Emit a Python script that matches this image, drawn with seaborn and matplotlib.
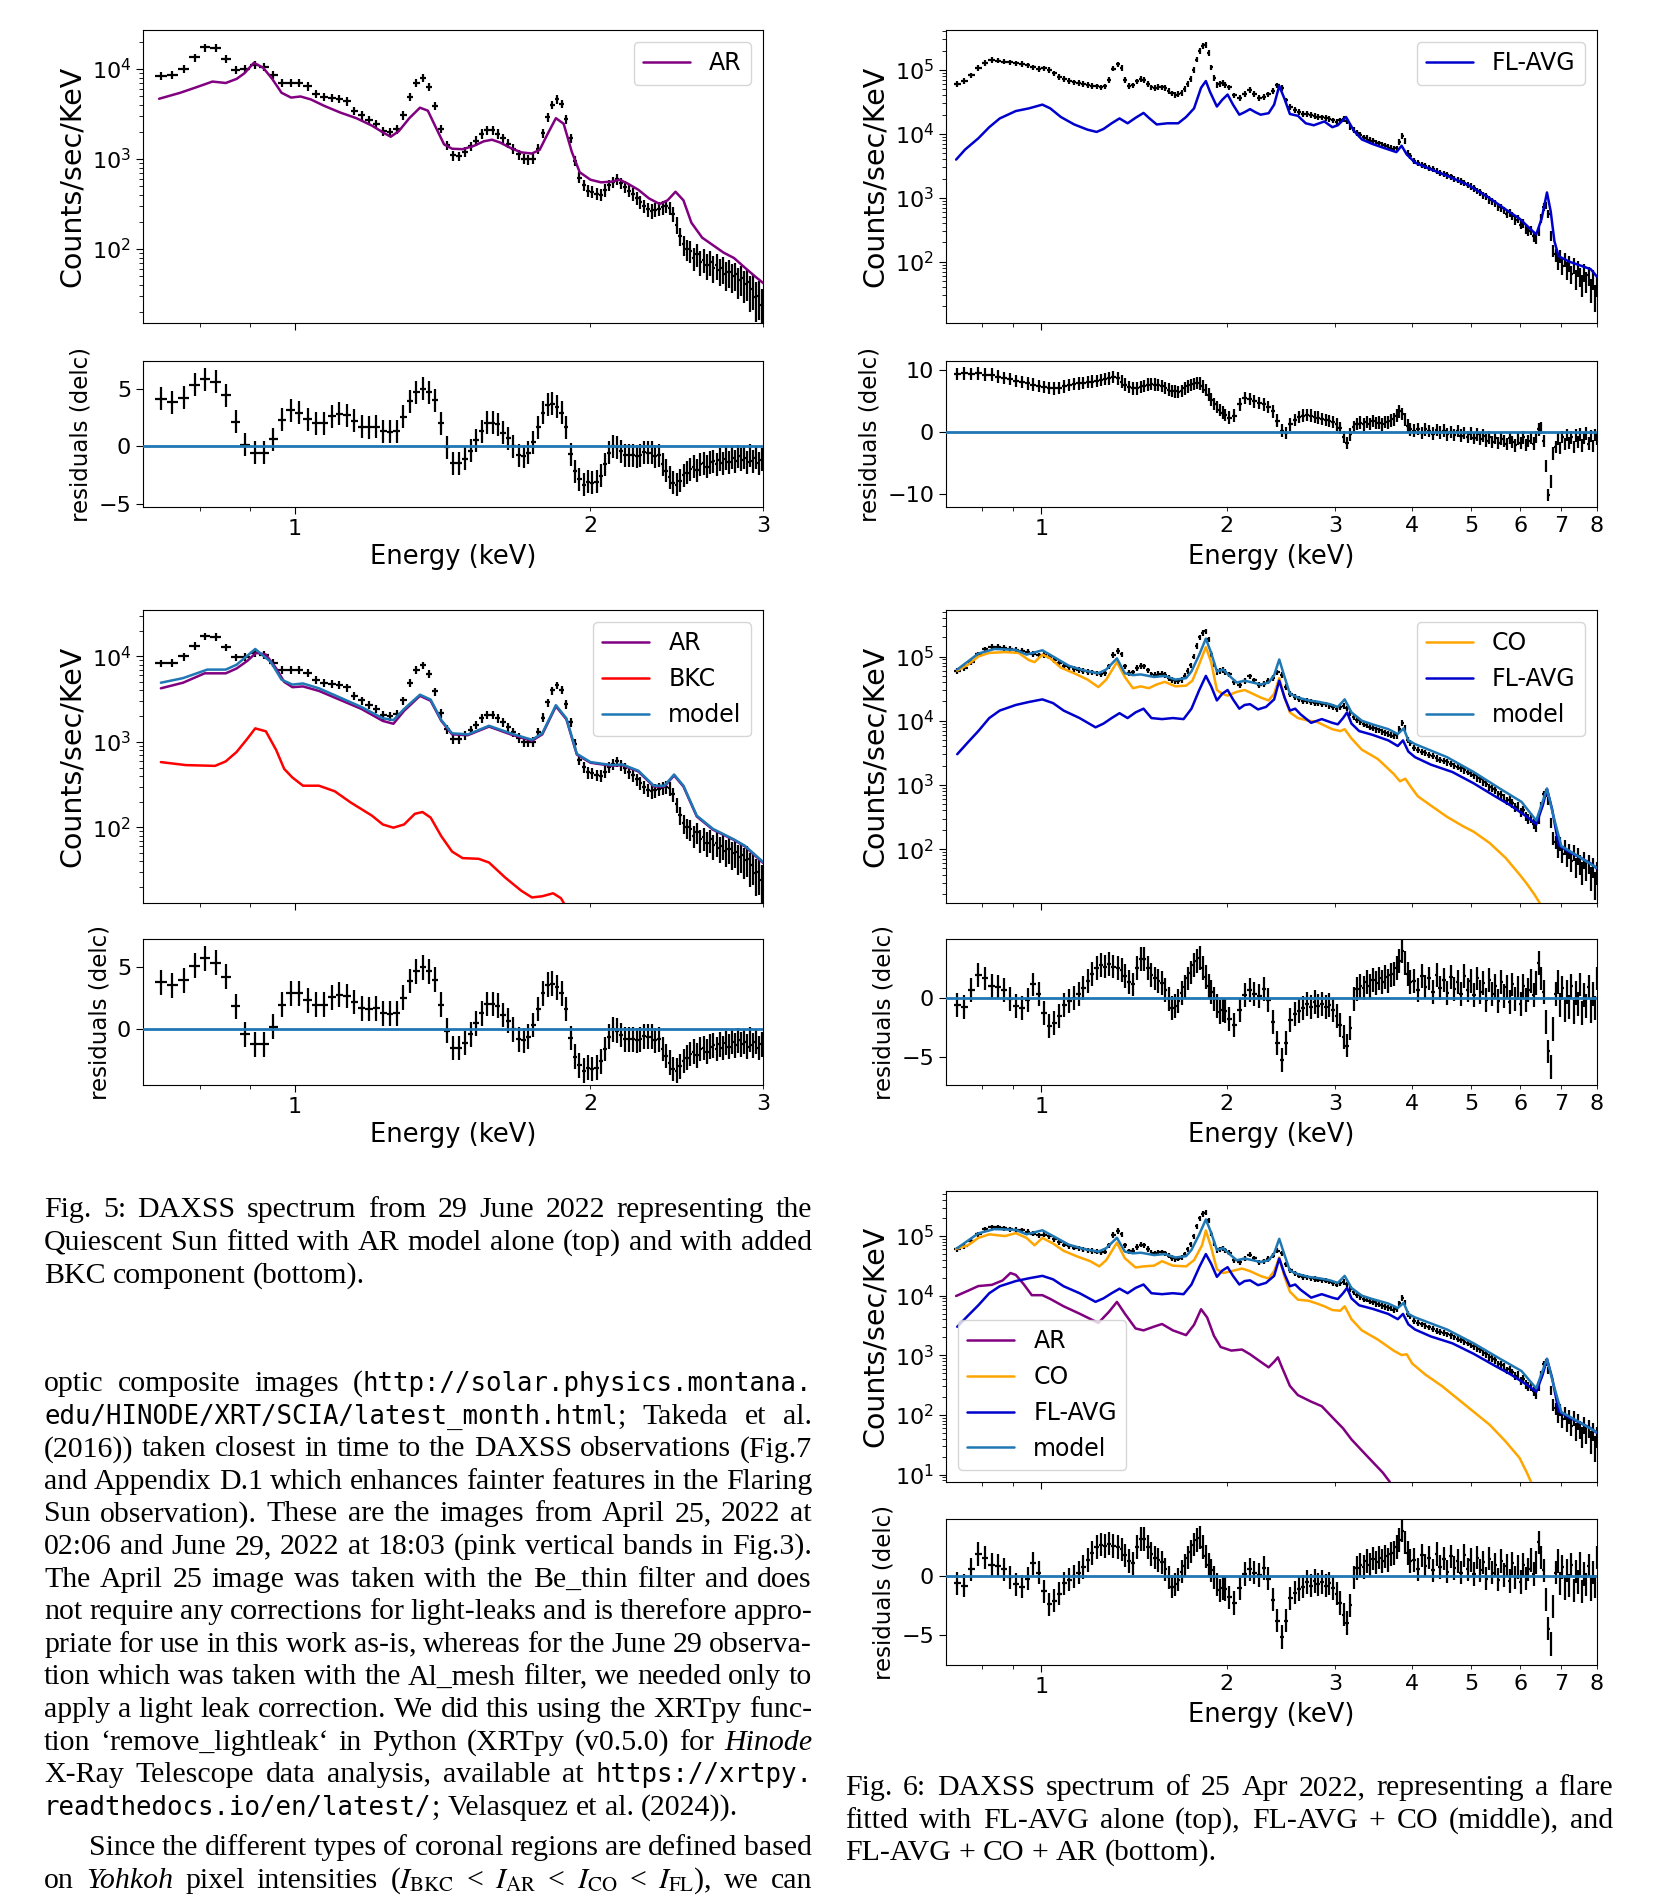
import re
import numpy as np
import matplotlib
matplotlib.use("Agg")
import matplotlib.pyplot as plt
from matplotlib import ticker
from matplotlib.transforms import IdentityTransform
import seaborn as sns

# ------------------------------------------------------------------
# Quiet Sun, 29 June 2022 (0.02 keV bins)
# ------------------------------------------------------------------
e_qs = np.round(np.linspace(0.73, 2.99, 114), 3)
w_qs = np.full(114, 0.01)

counts_qs = [
    8300, 8500, 10000, 13400, 17300, 17000, 12800, 9800, 9900, 11100,
    10500, 8500, 7000, 7000, 7000, 6400, 5300, 4900, 4800, 4650,
    4350, 3430, 3060, 2700, 2450, 2040, 2000, 2130, 3060, 4900,
    7000, 7900, 6300, 3900, 2160, 1420, 1090, 1070, 1200, 1380,
    1590, 1900, 2090, 2090, 1900, 1700, 1480, 1300, 1120, 1000,
    990, 1000, 1300, 1930, 2900, 4000, 4600, 4100, 2750, 1700,
    950, 620, 510, 440, 430, 410, 400, 450, 510, 550,
    590, 540, 490, 440, 405, 365, 330, 300, 275, 265,
    272, 280, 290, 300, 285, 245, 185, 140, 112, 100,
    95, 80, 88, 72, 76, 66, 72, 62, 66, 58,
    61, 53, 56, 50, 52, 45, 47, 41, 43, 35,
    36, 29, 30, 24]

resid_qs_ar = [
    4.1, 3.8, 4.2, 5.35, 5.8, 5.6, 4.4, 2.1, 0.1, -0.6,
    -0.6, 0.6, 2.3, 3.1, 2.9, 2.35, 2.0, 2.0, 2.6, 2.8,
    2.7, 2.2, 1.7, 1.65, 1.7, 1.3, 1.25, 1.3, 2.55, 3.9,
    4.7, 5.0, 4.7, 4.0, 2.0, -0.1, -1.5, -1.5, -1.1, -0.4,
    0.5, 1.3, 2.05, 2.05, 1.9, 1.15, 0.7, 0.0, -0.8, -0.9,
    -0.6, 0.35, 1.65, 2.9, 3.6, 3.7, 3.4, 2.9, 1.65, -0.7,
    -2.2, -2.9, -3.35, -3.1, -3.2, -3.1, -2.6, -1.6, -0.6, 0.0,
    -0.1, -0.45, -0.8, -0.8, -0.8, -0.9, -0.8, -0.55, -0.6, -0.6,
    -0.9, -0.8, -1.6, -2.15, -2.7, -3.2, -3.35, -3.0, -2.55, -2.3,
    -2.0, -1.8, -2.1, -1.6, -1.5, -1.8, -1.4, -1.3, -1.6, -1.2,
    -1.5, -1.1, -1.4, -1.0, -1.3, -0.9, -1.2, -1.0, -1.4, -0.8,
    -1.3, -1.0, -1.5, -1.2]
resid_qs_bkc = [3.8, 3.55, 3.95, 5.15, 5.75, 5.4, 4.25, 1.85, -0.4, -1.2,
                -1.2, 0.2, 2.0, 2.9] + resid_qs_ar[14:]

ar_qs_e = [0.727, 0.764, 0.794, 0.824, 0.850, 0.872, 0.888, 0.908, 0.928, 0.948,
           0.969, 0.991, 1.013, 1.038, 1.071, 1.112, 1.155, 1.198, 1.229, 1.252,
           1.276, 1.308, 1.341, 1.366, 1.392, 1.419, 1.446, 1.482, 1.520, 1.558,
           1.588, 1.618, 1.659, 1.701, 1.744, 1.776, 1.810, 1.845, 1.879, 1.915,
           1.951, 2.001, 2.051, 2.103, 2.143, 2.183, 2.239, 2.296, 2.354, 2.398,
           2.443, 2.489, 2.536, 2.601, 2.667, 2.734, 2.803, 2.874, 2.947, 3.003]
ar_qs = [4650, 5420, 6260, 7220, 6960, 7730, 8910, 11650, 10300, 7730,
         5420, 4790, 4930, 4570, 3880, 3270, 2830, 2340, 1970, 1760,
         2030, 2830, 3700, 3430, 2230, 1450, 1295, 1280, 1385, 1567,
         1630, 1520, 1320, 1180, 1145, 1260, 1900, 2830, 2450, 1200,
         710, 586, 548, 558, 586, 532, 453, 363, 315, 346,
         431, 346, 195, 133, 110, 91, 79, 62, 49, 41.5]

model_qs_e = [0.730, 0.769, 0.814, 0.850, 0.872, 0.911, 0.945, 0.969, 0.994, 1.019,
              1.058, 1.112, 1.169, 1.229, 1.260, 1.292, 1.341, 1.375, 1.410, 1.446,
              1.501, 1.577, 1.659, 1.744, 1.787, 1.845, 1.891, 1.938, 2.001, 2.103,
              2.156, 2.239, 2.322, 2.380, 2.435, 2.489, 2.568, 2.667, 2.803, 2.874, 3.003]
model_qs = [4930, 5580, 7020, 7020, 8010, 12240, 8590, 5350, 4690, 4830,
            4240, 3300, 2560, 1890, 1800, 2430, 3570, 3130, 1800, 1260,
            1225, 1545, 1260, 1060, 1260, 2690, 1890, 725, 580, 535,
            545, 460, 307, 307, 415, 307, 137, 96, 72, 61, 39]

ar2_qs_e = [0.730, 0.769, 0.809, 0.850, 0.872, 0.894, 0.913, 0.934, 0.957, 0.975,
            0.994, 1.019, 1.058, 1.112, 1.169, 1.229, 1.260, 1.292, 1.341, 1.375,
            1.410, 1.446, 1.501, 1.577, 1.659, 1.744, 1.787, 1.845, 1.891, 1.938,
            2.001, 2.103, 2.156, 2.239, 2.322, 2.380, 2.435, 2.489, 2.568, 2.667,
            2.803, 2.874, 3.003]
ar2_qs = [4240, 4930, 6350, 6350, 7240, 8860, 11060, 10510, 7240, 5040,
          4370, 4460, 3950, 3100, 2430, 1760, 1630, 2310, 3460, 3030,
          1760, 1225, 1200, 1510, 1225, 1030, 1225, 2610, 1840, 710,
          570, 525, 535, 450, 300, 300, 405, 300, 134, 94,
          71, 60, 38]

bkc_e = [0.730, 0.774, 0.829, 0.850, 0.872, 0.894, 0.911, 0.934, 0.957, 0.975,
         0.994, 1.019, 1.058, 1.098, 1.140, 1.198, 1.229, 1.260, 1.292, 1.325,
         1.349, 1.375, 1.410, 1.446, 1.482, 1.539, 1.577, 1.638, 1.701, 1.744,
         1.787, 1.833, 1.867, 1.883, 1.927]
bkc = [580, 535, 524, 591, 762, 1085, 1440, 1330, 801, 483,
       383, 307, 307, 264, 195, 137, 108, 99, 108, 144,
       151, 130, 78.5, 52, 43.6, 42.8, 38.7, 25.8, 18.1, 15.1,
       15.6, 16.9, 14.8, 12.5, 6]

# ------------------------------------------------------------------
# Flare, 25 April 2022 (0.02 / 0.04 / 0.06 keV bins)
# ------------------------------------------------------------------
e_fl = np.round(np.concatenate([np.linspace(0.73, 1.99, 64),
                                np.linspace(2.02, 3.98, 50),
                                np.linspace(4.03, 7.99, 67)]), 3)
w_fl = np.concatenate([np.full(64, 0.01), np.full(50, 0.02), np.full(67, 0.03)])

counts_fl = [
    60000, 67000, 82000, 108000, 130000, 142000, 140000, 135000, 131000, 127000,
    124000, 118000, 110000, 104000, 106000, 100000, 88000, 78000, 72000, 68000,
    64000, 62000, 60000, 58000, 56500, 55000, 53500, 55000, 70000, 105000,
    122000, 108000, 70000, 56000, 57000, 66000, 72000, 70000, 61000, 53000,
    52000, 54000, 53500, 52000, 47000, 43000, 41000, 42000, 43500, 50000,
    60000, 73000, 100000, 145000, 200000, 235000, 247000, 185000, 110000, 75000,
    58000, 60000, 62000, 58000,
    53000, 40000, 36500, 42000, 49000, 42500, 36500, 37500, 41500, 47000,
    57000, 52000, 33500, 26500, 23800, 21800, 20600, 20300, 19600, 19200,
    18600, 18000, 17900, 17200, 16300, 15400, 16200, 17000, 15600, 13000,
    11400, 10300, 9600, 8800, 8600, 8100, 7800, 7300, 7100, 6700,
    6500, 6200, 6100, 5800, 5900, 7500, 9200, 7700, 5000, 4500,
    3800, 3500, 3300, 3150, 2950, 2800, 2600, 2480, 2380, 2250,
    2150, 2000, 1900, 1820, 1700, 1600, 1520, 1420, 1280, 1230,
    1100, 1050, 930, 880, 820, 720, 700, 640, 560, 590,
    520, 450, 470, 380, 400, 330, 300, 310, 250, 230,
    300, 480, 720, 760, 560, 260, 150, 130, 100, 125,
    85, 110, 75, 95, 65, 90, 55, 80, 60, 45,
    70, 50, 62, 38, 55, 30, 45]

resid_fl_avg = [
    9.3, 9.4, 9.3, 9.4, 9.2, 9.2, 8.9, 8.7, 8.5, 8.2,
    8.0, 7.8, 7.6, 7.4, 7.2, 7.1, 7.0, 7.1, 7.3, 7.5,
    7.7, 7.8, 7.9, 8.0, 8.1, 8.2, 8.3, 8.5, 8.6, 8.8,
    8.6, 8.1, 7.6, 7.2, 7.0, 7.0, 7.2, 7.4, 7.6, 7.7,
    7.6, 7.5, 7.4, 7.1, 6.8, 6.6, 6.5, 6.4, 6.6, 7.0,
    7.3, 7.5, 7.7, 7.9, 7.8, 7.3, 6.7, 6.0, 5.2, 4.5,
    4.0, 3.5, 3.1, 2.7,
    2.3, 2.6, 4.4, 5.4, 5.3, 4.9, 4.6, 4.4, 4.0, 3.3,
    1.8, 0.2, -0.2, 1.2, 1.9, 2.4, 2.6, 2.7, 2.6, 2.4,
    2.3, 2.1, 1.9, 1.7, 1.6, 1.2, 0.6, -0.8, -1.8, -0.4,
    0.8, 1.3, 1.5, 1.2, 1.6, 1.3, 1.7, 1.4, 1.5, 1.2,
    1.6, 1.5, 1.8, 2.0, 2.6, 3.3, 2.9, 2.0, 1.0, 0.4,
    0.2, 0.5, -0.2, 0.4, 0.1, -0.3, 0.3, -0.1, 0.2, -0.4,
    0.0, -0.5, 0.1, -0.6, -0.2, -0.8, -0.3, -1.0, -0.4, -1.2,
    -0.6, -1.4, -0.9, -1.6, -1.0, -1.8, -1.1, -1.5, -2.0, -1.0,
    -1.6, -2.2, -1.2, -1.8, -0.9, -2.1, -1.5, -1.0, -1.9, -0.8,
    0.4, 0.6, -1.5, -5.5, -10.2, -8.0, -3.5, -2.4, -1.2, -2.6,
    -0.8, -2.0, -0.5, -1.8, -0.9, -2.4, -0.6, -1.6, -0.4, -2.2,
    -1.0, -0.3, -1.9, -0.7, -2.3, -0.5, -1.2]

resid_fl_co = [
    -0.6, -0.8, 0.6, 1.9, 1.6, 1.0, 0.9, 0.6, -0.1, -0.7,
    -0.9, -0.2, 1.1, 0.3, -1.3, -2.4, -2.1, -1.5, -0.6, -0.3,
    0.0, 0.3, 0.8, 1.4, 2.0, 2.5, 2.7, 2.6, 2.8, 2.6,
    2.5, 2.3, 1.8, 1.3, 1.1, 2.5, 3.2, 3.2, 2.5, 1.9,
    1.6, 1.4, 1.2, 0.6, -0.1, -0.9, -0.7, -0.3, 0.4, 0.9,
    1.6, 2.1, 2.7, 3.1, 3.3, 2.5, 1.7, 1.0, 0.5, -0.1,
    -0.7, -1.2, -1.0, -1.1,
    -1.8, -2.3, -1.0, 0.2, 0.6, 0.3, 0.1, 0.7, -0.2, -2.0,
    -3.8, -5.2, -3.8, -1.9, -1.4, -1.1, -0.9, -0.5, -0.8, -0.4,
    -0.7, -0.5, -0.8, -0.6, -1.0, -1.5, -2.3, -3.3, -4.0, -2.5,
    -0.1, 0.7, 1.0, 0.8, 1.3, 1.0, 1.5, 1.2, 1.6, 1.3,
    1.7, 1.4, 1.9, 2.0, 2.5, 3.1, 3.9, 2.9, 2.0, 1.3,
    1.4, 0.6, 1.8, 0.9, 1.6, 0.5, 1.9, 0.8, 1.5, 0.4,
    1.7, 0.7, 1.3, 0.3, 1.8, 0.6, 1.4, 0.2, 1.6, 0.5,
    1.2, -0.2, 1.5, 0.3, 1.0, -0.3, 1.3, 0.1, 0.9, -0.4,
    1.1, -0.1, 0.8, -0.5, 1.0, -0.2, 0.6, 1.4, 0.2, 1.2,
    2.9, 1.6, 0.5, -2.0, -4.5, -5.8, -2.6, 0.3, 1.3, -0.6,
    0.8, -1.0, 0.5, -0.8, 1.0, -1.2, 0.4, -0.5, 1.1, -1.3,
    0.2, -0.7, 0.9, -1.1, 0.3, -0.9, 1.6]

flavg1_e = [0.727, 0.752, 0.790, 0.823, 0.856, 0.909, 0.955, 1.004, 1.034, 1.076,
            1.131, 1.189, 1.230, 1.262, 1.301, 1.340, 1.381, 1.423, 1.466, 1.495,
            1.540, 1.603, 1.669, 1.719, 1.771, 1.818, 1.851, 1.879, 1.929, 1.968,
            2.008, 2.049, 2.098, 2.140, 2.184, 2.227, 2.272, 2.341, 2.390, 2.436,
            2.485, 2.535, 2.612, 2.690, 2.772, 2.884, 2.971, 3.033, 3.128, 3.222,
            3.318, 3.451, 3.591, 3.776, 3.851, 3.925, 4.048, 4.297, 4.563, 4.941,
            5.351, 5.680, 5.987, 6.212, 6.373, 6.503, 6.634, 6.727, 6.821, 6.929,
            7.214, 7.508, 7.814, 8.0]
flavg1 = [3950, 5680, 8500, 12700, 17400, 22700, 25000, 28600, 25000, 18300,
          14000, 11600, 10700, 11900, 14600, 17400, 14600, 17800, 21200, 17800,
          14000, 14600, 14600, 18300, 25000, 52400, 66800, 45800, 26700, 34000,
          41100, 28600, 19900, 21800, 24300, 21800, 19900, 21000, 28600, 56100,
          35000, 20400, 19100, 14600, 13600, 15600, 12700, 13600, 18300, 11100,
          8170, 6950, 6080, 5170, 6500, 4760, 3550, 2780, 2210, 1580,
          987, 659, 471, 336, 267, 471, 1210, 615, 210, 122,
          100, 87.5, 76.4, 58.3]

flavg_e = [0.730, 0.760, 0.790, 0.823, 0.856, 0.909, 0.955, 1.004, 1.045, 1.087,
           1.154, 1.225, 1.262, 1.301, 1.340, 1.381, 1.423, 1.466, 1.510, 1.571,
           1.636, 1.703, 1.754, 1.806, 1.851, 1.888, 1.929, 1.968, 2.008, 2.049,
           2.098, 2.140, 2.184, 2.250, 2.318, 2.390, 2.436, 2.485, 2.535, 2.586,
           2.638, 2.745, 2.856, 2.971, 3.033, 3.093, 3.140, 3.192, 3.285, 3.451,
           3.664, 3.796, 3.871, 3.949, 4.048, 4.297, 4.656, 5.042, 5.460, 5.794,
           6.155, 6.373, 6.530, 6.634, 6.764, 6.93, 7.21, 7.51, 7.81, 8.0]
flavg = [3010, 4620, 6900, 11000, 14400, 17600, 19600, 21500, 18800, 14400,
         11000, 7890, 9020, 11000, 13100, 11000, 13500, 15400, 11000, 10600,
         11000, 10600, 15400, 30100, 49900, 34400, 20700, 26300, 30100, 21500,
         15400, 17600, 18100, 15000, 16400, 21500, 42000, 23000, 14400, 15400,
         12600, 9270, 10600, 9270, 8790, 11000, 13500, 9020, 6900, 6040,
         4940, 4040, 4940, 3310, 2710, 2070, 1590, 1060, 667, 477,
         319, 244, 477, 871, 417, 115, 90, 74, 60, 50]

co_e = [0.730, 0.760, 0.790, 0.823, 0.873, 0.918, 0.955, 0.975, 1.004, 1.034,
        1.076, 1.131, 1.189, 1.238, 1.275, 1.327, 1.367, 1.409, 1.451, 1.495,
        1.540, 1.587, 1.652, 1.719, 1.760, 1.806, 1.851, 1.888, 1.929, 1.968,
        2.008, 2.077, 2.140, 2.206, 2.272, 2.341, 2.390, 2.436, 2.485, 2.535,
        2.612, 2.718, 2.800, 2.884, 2.971, 3.061, 3.112, 3.192, 3.318, 3.522,
        3.737, 3.827, 3.905, 3.987, 4.091, 4.297, 4.563, 4.844, 5.042, 5.351,
        5.680, 5.987, 6.155, 6.338, 6.459, 6.66]
co = [60100, 74500, 100000, 114000, 117000, 114000, 87500, 81800, 107000, 93500,
      67000, 54800, 43700, 33400, 43700, 81800, 48000, 32100, 34300, 32100,
      36700, 40300, 34300, 35200, 42000, 76600, 140000, 81800, 30100, 26300,
      24600, 28100, 30100, 26300, 23000, 20700, 26300, 46000, 23000, 13500,
      11000, 10000, 9650, 8440, 7380, 6900, 7380, 5290, 3540, 2540,
      1490, 1140, 1250, 931, 667, 477, 319, 228, 187, 125,
      73.5, 40.3, 28.8, 19.3, 14.4, 10]

model_fl_e = [0.730, 0.790, 0.839, 0.909, 0.946, 1.004, 1.045, 1.109, 1.177, 1.238,
              1.275, 1.327, 1.367, 1.409, 1.451, 1.525, 1.587, 1.652, 1.719, 1.754,
              1.806, 1.851, 1.888, 1.929, 1.976, 2.016, 2.077, 2.140, 2.206, 2.272,
              2.341, 2.390, 2.436, 2.485, 2.535, 2.612, 2.718, 2.829, 2.944, 3.033,
              3.112, 3.192, 3.318, 3.451, 3.664, 3.796, 3.880, 3.949, 4.048, 4.563,
              5.042, 5.568, 6.030, 6.373, 6.634, 6.795, 7.0, 7.5, 8.0]
model_fl = [62700, 111000, 131000, 127000, 107000, 125000, 100000, 71600, 60100, 54800,
            62700, 93500, 54800, 51300, 52600, 48000, 49900, 43700, 46000, 58600,
            107000, 190000, 114000, 58600, 62700, 51300, 39300, 42000, 39300, 36700,
            39300, 51300, 89900, 48000, 26300, 23000, 20700, 19600, 18100, 16400,
            21500, 13500, 10000, 8790, 7380, 6200, 7590, 4940, 4330, 2710,
            1590, 871, 546, 279, 871, 330, 112, 75, 51]

ar_fl_e = [0.727, 0.760, 0.790, 0.831, 0.865, 0.891, 0.909, 0.936, 0.965, 1.004,
           1.034, 1.087, 1.154, 1.238, 1.288, 1.327, 1.367, 1.423, 1.466, 1.525,
           1.571, 1.636, 1.719, 1.771, 1.818, 1.860, 1.908, 1.956, 2.036, 2.119,
           2.184, 2.272, 2.341, 2.390, 2.424, 2.461, 2.535, 2.612, 2.745, 2.856,
           2.971, 3.093, 3.192, 3.318, 3.451, 3.591, 3.685]
ar_fl = [9890, 12100, 14500, 15200, 18000, 24000, 22300, 15600, 10200, 10200,
         8830, 6640, 4990, 3490, 5360, 7870, 4990, 2820, 2620, 3030,
         3350, 2620, 2180, 3250, 5920, 4320, 2120, 1380, 1200, 1250,
         1040, 779, 628, 779, 925, 628, 307, 215, 167, 140,
         91.4, 59.6, 38.8, 25.3, 16.5, 10.7, 7.5]

co3_e = [0.727, 0.760, 0.790, 0.823, 0.873, 0.909, 0.946, 0.975, 1.004, 1.045,
         1.087, 1.143, 1.201, 1.242, 1.275, 1.327, 1.367, 1.423, 1.466, 1.525,
         1.571, 1.636, 1.719, 1.771, 1.825, 1.851, 1.888, 1.929, 1.976, 2.036,
         2.119, 2.184, 2.272, 2.341, 2.390, 2.436, 2.485, 2.535, 2.612, 2.718,
         2.800, 2.884, 2.971, 3.061, 3.112, 3.192, 3.318, 3.522, 3.737, 3.851,
         3.925, 4.008, 4.212, 4.475, 4.748, 5.042, 5.351, 5.680, 5.987, 6.155,
         6.250, 6.30]
co3 = [60700, 70000, 93100, 107000, 100000, 112000, 93100, 70000, 93100, 75100,
       56500, 45600, 37900, 31000, 39500, 77300, 42500, 29700, 31000, 31900,
       37900, 31900, 31000, 39500, 70000, 124000, 65200, 27700, 24000, 25800,
       28500, 25800, 21400, 19400, 25800, 43600, 20800, 11700, 8580, 8220,
       7440, 6640, 5750, 5590, 6640, 4030, 2620, 1840, 1200, 1010,
       1040, 725, 472, 307, 187, 113, 68.7, 36.1, 19.0, 10.7,
       7.5, 6.1]

for a, b in [(e_qs, counts_qs), (e_qs, resid_qs_ar), (e_qs, resid_qs_bkc),
             (ar_qs_e, ar_qs), (model_qs_e, model_qs), (ar2_qs_e, ar2_qs), (bkc_e, bkc),
             (e_fl, counts_fl), (e_fl, resid_fl_avg), (e_fl, resid_fl_co),
             (flavg1_e, flavg1), (flavg_e, flavg), (co_e, co), (model_fl_e, model_fl),
             (ar_fl_e, ar_fl), (co3_e, co3)]:
    assert len(a) == len(b), (len(a), len(b))

# statistical + 10 % systematic uncertainty on the count rates
SYS_FRAC = 0.10
STAT_FAC = 6.0


def count_err(c):
    c = np.asarray(c, dtype=float)
    return np.sqrt((SYS_FRAC * c) ** 2 + STAT_FAC * c)


# ------------------------------------------------------------------
# text of the page around the figures
# ------------------------------------------------------------------
caption5 = [
    "Fig. 5: DAXSS spectrum from 29 June 2022 representing the",
    "Quiescent Sun fitted with AR model alone (top) and with added",
    "BKC component (bottom).",
]
body = [
    "optic composite images (`http://solar.physics.montana.`",
    "`edu/HINODE/XRT/SCIA/latest_month.html`; Takeda et al.",
    "(2016)) taken closest in time to the DAXSS observations (Fig.7",
    "and Appendix D.1 which enhances fainter features in the Flaring",
    "Sun observation). These are the images from April 25, 2022 at",
    "02:06 and June 29, 2022 at 18:03 (pink vertical bands in Fig.3).",
    "The April 25 image was taken with the Be_thin filter and does",
    "not require any corrections for light-leaks and is therefore appro-",
    "priate for use in this work as-is, whereas for the June 29 observa-",
    "tion which was taken with the Al_mesh filter, we needed only to",
    "apply a light leak correction. We did this using the XRTpy func-",
    "tion \u2018remove_lightleak\u2018 in Python (XRTpy (v0.5.0) for *Hinode*",
    "X-Ray Telescope data analysis, available at `https://xrtpy.`",
    "`readthedocs.io/en/latest/`; Velasquez et al. (2024)).",
]
para2 = [
    "Since the different types of coronal regions are defined based",
    r"on *Yohkoh* pixel intensities ($I_{\mathrm{BKC}}$ < $I_{\mathrm{AR}}$ < "
    r"$I_{\mathrm{CO}}$ < $I_{\mathrm{FL}}$), we can",
]
caption6 = [
    "Fig. 6: DAXSS spectrum of 25 Apr 2022, representing a flare",
    "fitted with FL-AVG alone (top), FL-AVG + CO (middle), and",
    "FL-AVG + CO + AR (bottom).",
]

# ------------------------------------------------------------------
W, H, DPI = 1662, 1897, 100
sns.set_style("ticks", rc={"axes.edgecolor": "black", "xtick.color": "black",
                           "ytick.color": "black", "axes.labelcolor": "black",
                           "text.color": "black", "axes.linewidth": 1.2})
plt.rcParams["font.family"] = ["DejaVu Sans"]
plt.rcParams["mathtext.fontset"] = "stix"
plt.rcParams["xtick.major.size"] = 5
plt.rcParams["ytick.major.size"] = 5
plt.rcParams["xtick.minor.size"] = 3
plt.rcParams["ytick.minor.size"] = 3

fig = plt.figure(figsize=(W / DPI, H / DPI), dpi=DPI)
fig.patch.set_facecolor("white")

COLS = {"L": (143, 763), "R": (946, 1597)}
ROWS = {1: ((30, 323), (361, 507)),
        2: ((610, 903), (939, 1085)),
        3: ((1191, 1482), (1519, 1665))}

C_AR, C_BKC, C_MODEL, C_FL, C_CO = "purple", "red", "#1f77b4", "mediumblue", "orange"


def px_rect(x0, y0, x1, y1):
    return [x0 / W, 1 - y1 / H, (x1 - x0) / W, (y1 - y0) / H]


def panel(col, row, e, half_w, counts, resid, models, xmax, xticks, ylim, rlim, rticks,
          legend_loc="upper right"):
    x0, x1 = COLS[col]
    (sy0, sy1), (ry0, ry1) = ROWS[row]
    ax = fig.add_axes(px_rect(x0, sy0, x1, sy1))
    axr = fig.add_axes(px_rect(x0, ry0, x1, ry1), sharex=ax)

    ax.errorbar(e, counts, xerr=half_w, yerr=count_err(counts), fmt="none",
                ecolor="black", elinewidth=1.6, zorder=2)
    for name, me, mc, color in models:
        sns.lineplot(x=me, y=mc, ax=ax, color=color, linewidth=1.8, label=name, zorder=3)
    ax.set_yscale("log")
    ax.set_xscale("log")
    ax.set_xlim(0.70, xmax)
    ax.set_ylim(*ylim)
    ax.xaxis.set_major_locator(ticker.FixedLocator([1]))
    ax.xaxis.set_minor_locator(ticker.FixedLocator([0.8, 0.9] + xticks))
    fmt = ticker.FuncFormatter(lambda v, p: f"{v:g}" if v >= 1 else "")
    ax.xaxis.set_major_formatter(fmt)
    ax.xaxis.set_minor_formatter(fmt)
    ax.tick_params(axis="x", which="both", labelbottom=False)
    ax.tick_params(axis="y", which="both", labelsize=16)
    ax.set_ylabel("Counts/sec/KeV", fontsize=20.5)
    ax.set_xlabel("")
    ax.legend(loc=legend_loc, fontsize=17, handlelength=2.0)

    axr.errorbar(e, resid, xerr=half_w, yerr=1.0, fmt="none",
                 ecolor="black", elinewidth=1.6, zorder=2)
    axr.axhline(0, color=C_MODEL, linewidth=2, zorder=3)
    axr.set_ylim(*rlim)
    axr.set_yticks(rticks)
    axr.tick_params(axis="both", which="both", labelsize=16)
    axr.set_ylabel("residuals (delc)", fontsize=16.5)
    axr.set_xlabel("Energy (keV)", fontsize=18.5)
    return ax, axr


panel("L", 1, e_qs, w_qs, counts_qs, resid_qs_ar,
      [("AR", ar_qs_e, ar_qs, C_AR)],
      3.0, [2, 3], (15, 2.7e4), (-5.3, 7.4), [-5, 0, 5])
panel("L", 2, e_qs, w_qs, counts_qs, resid_qs_bkc,
      [("AR", ar2_qs_e, ar2_qs, C_AR), ("BKC", bkc_e, bkc, C_BKC),
       ("model", model_qs_e, model_qs, C_MODEL)],
      3.0, [2, 3], (13, 3.5e4), (-4.5, 7.3), [0, 5])
panel("R", 1, e_fl, w_fl, counts_fl, resid_fl_avg,
      [("FL-AVG", flavg1_e, flavg1, C_FL)],
      8.0, [2, 3, 4, 5, 6, 7, 8], (11, 4.2e5), (-12.1, 11.4), [-10, 0, 10])
panel("R", 2, e_fl, w_fl, counts_fl, resid_fl_co,
      [("CO", co_e, co, C_CO), ("FL-AVG", flavg_e, flavg, C_FL),
       ("model", model_fl_e, model_fl, C_MODEL)],
      8.0, [2, 3, 4, 5, 6, 7, 8], (14.5, 5.3e5), (-7.3, 4.9), [-5, 0])
panel("R", 3, e_fl, w_fl, counts_fl, resid_fl_co,
      [("AR", ar_fl_e, ar_fl, C_AR), ("CO", co3_e, co3, C_CO),
       ("FL-AVG", flavg_e, flavg, C_FL), ("model", model_fl_e, model_fl, C_MODEL)],
      8.0, [2, 3, 4, 5, 6, 7, 8], (7.5, 5.7e5), (-7.6, 4.9), [-5, 0],
      legend_loc="lower left")

# ------------------------------------------------------------------
# justified text lines drawn in pixel coordinates
# ------------------------------------------------------------------
SERIF, MONO = "Liberation Serif", "DejaVu Sans Mono"
TEXT_SIZE, MONO_SIZE = 21.5, 18.5
renderer = fig.canvas.get_renderer()


def piece_style(tok):
    if tok.startswith("`"):
        return tok[1:-1], dict(family=MONO, size=MONO_SIZE)
    if tok.startswith("*"):
        return tok[1:-1], dict(family=SERIF, size=TEXT_SIZE, style="italic")
    return tok, dict(family=SERIF, size=TEXT_SIZE)


def text_line(line, x0, x1, baseline, justify=True, indent=0):
    y = H - baseline
    words = []
    for w in line.split():
        arts, width = [], 0.0
        for tok in re.findall(r"`[^`]+`|\*[^*]+\*|[^`*]+", w):
            s, kw = piece_style(tok)
            t = fig.text(0, y, s, transform=IdentityTransform(), ha="left",
                         va="baseline", color="black", **kw)
            wd = t.get_window_extent(renderer).width
            arts.append((t, wd))
            width += wd
        words.append((arts, width))
    start = x0 + indent
    total = sum(wd for _, wd in words)
    if justify and len(words) > 1:
        gap = (x1 - start - total) / (len(words) - 1)
    else:
        gap = 0.25 * TEXT_SIZE * DPI / 72
    x = start
    for arts, width in words:
        for t, wd in arts:
            t.set_x(x)
            x += wd
        x += gap


def text_block(lines, x0, x1, baselines, last_justified=False, first_indent=0):
    for i, (line, b) in enumerate(zip(lines, baselines)):
        last = i == len(lines) - 1
        text_line(line, x0, x1, b, justify=(not last) or last_justified,
                  indent=first_indent if i == 0 else 0)


text_block(caption5, 44, 812, [1217, 1250, 1283])
text_block(body, 44, 812, [1391 + 32.6 * i for i in range(len(body))])
text_block(para2, 44, 812, [1855, 1888], last_justified=True, first_indent=45)
text_block(caption6, 845, 1613, [1795, 1828, 1860])

fig.savefig("out.png", dpi=DPI, facecolor="white")
